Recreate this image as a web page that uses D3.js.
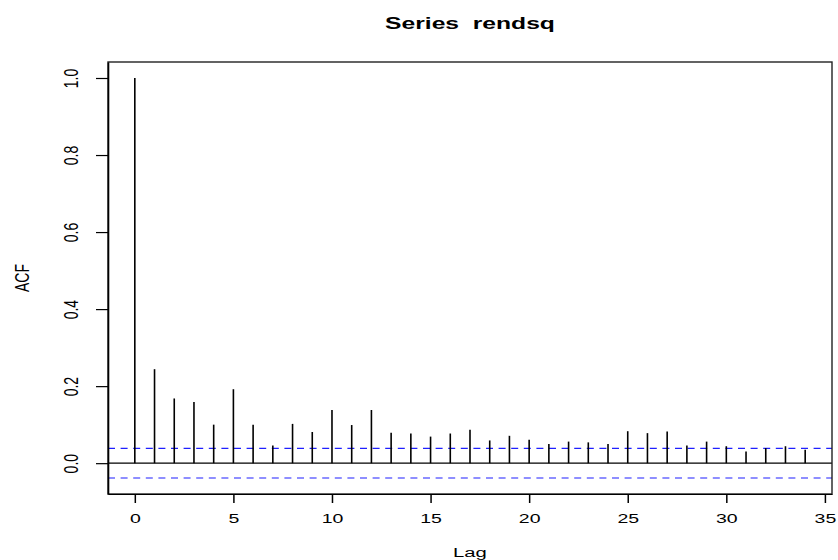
<!DOCTYPE html>
<html>
<head>
<meta charset="utf-8">
<script src="https://cdn.jsdelivr.net/npm/d3@7.9.0/dist/d3.min.js"></script>
<style>
  body { margin: 0; background: #fff; }
  svg { display: block; font-family: "Liberation Sans", Arial, Helvetica, sans-serif; }
</style>
</head>
<body>
<svg id="chart"></svg>
<script>
const width = 838;
const height = 560;

// data
const lags = [0, 1, 2, 3, 4, 5, 6, 7, 8, 9, 10, 11, 12, 13, 14, 15, 16, 17,
              18, 19, 20, 21, 22, 23, 24, 25, 26, 27, 28, 29, 30, 31, 32, 33, 34];
const acfValues = [1.000, 0.244, 0.168, 0.159, 0.100, 0.192, 0.100, 0.046, 0.102, 0.081,
                   0.138, 0.099, 0.138, 0.079, 0.077, 0.069, 0.077, 0.087, 0.059, 0.071,
                   0.061, 0.050, 0.056, 0.054, 0.050, 0.083, 0.078, 0.082, 0.046, 0.056,
                   0.044, 0.030, 0.039, 0.044, 0.035];
const confLimit = 0.0385;
const xTicks = [0, 5, 10, 15, 20, 25, 30, 35];
const yTicks = [0, 0.2, 0.4, 0.6, 0.8, 1.0];
const title = "Series  rendsq";

// plot region (R's default box)
const plotLeft = 108, plotRight = 832, plotTop = 62, plotBottom = 494;
const sx = 1.5; // text in the picture is stretched horizontally

const svg = d3.select("#chart").attr("width", width).attr("height", height);

// R-style 4% extension of the ranges
const xMin = d3.min(lags), xMax = d3.max(lags);
const xPad = (xMax - xMin) * 0.04;
const yMin = Math.min(-confLimit, d3.min(acfValues)), yMax = d3.max(acfValues);
const yPad = (yMax - yMin) * 0.04;

const x = d3.scaleLinear().domain([xMin - xPad, xMax + xPad]).range([plotLeft, plotRight]);
const y = d3.scaleLinear().domain([yMin - yPad, yMax + yPad]).range([plotBottom, plotTop]);

svg.append("defs").append("clipPath").attr("id", "plot-clip")
  .append("rect")
  .attr("x", plotLeft).attr("y", plotTop)
  .attr("width", plotRight - plotLeft).attr("height", plotBottom - plotTop);

const plot = svg.append("g").attr("clip-path", "url(#plot-clip)");

// zero line
plot.append("line")
  .attr("x1", plotLeft).attr("x2", plotRight)
  .attr("y1", y(0)).attr("y2", y(0))
  .attr("stroke", "#000").attr("stroke-width", 1.2);

// confidence limits
[confLimit, -confLimit].forEach(c => {
  plot.append("line")
    .attr("x1", plotLeft).attr("x2", plotRight)
    .attr("y1", y(c)).attr("y2", y(c))
    .attr("stroke", "#1f1fff").attr("stroke-width", 1.2)
    .attr("stroke-dasharray", "7,5.6");
});

// spikes
plot.selectAll("line.spike")
  .data(lags)
  .join("line")
  .attr("class", "spike")
  .attr("x1", (d) => x(d)).attr("x2", (d) => x(d))
  .attr("y1", y(0)).attr("y2", (d, i) => y(acfValues[i]))
  .attr("stroke", "#000").attr("stroke-width", 1.6);

// box
svg.append("rect")
  .attr("x", plotLeft).attr("y", plotTop)
  .attr("width", plotRight - plotLeft).attr("height", plotBottom - plotTop)
  .attr("fill", "none").attr("stroke", "#222").attr("stroke-width", 1.4);

// x axis
const xAxis = svg.append("g")
  .attr("transform", `translate(0,${plotBottom})`)
  .call(d3.axisBottom(x).tickValues(xTicks).tickSize(9).tickSizeOuter(0).tickFormat(d3.format("d")));
xAxis.select(".domain").attr("stroke", "#000").attr("stroke-width", 1.2);
xAxis.selectAll(".tick line").attr("stroke", "#000").attr("stroke-width", 1.5);
xAxis.selectAll(".tick text")
  .attr("y", 29).attr("dy", null)
  .attr("font-size", 13).attr("fill", "#000")
  .attr("transform", `scale(${sx},1)`);

// y axis
const yAxis = svg.append("g")
  .attr("transform", `translate(${plotLeft},0)`)
  .call(d3.axisLeft(y).tickValues(yTicks).tickSize(12).tickSizeOuter(0).tickFormat(d3.format(".1f")));
yAxis.select(".domain").attr("stroke", "#000").attr("stroke-width", 1.6);
yAxis.selectAll(".tick line").attr("stroke", "#000").attr("stroke-width", 1.2);
yAxis.selectAll(".tick text")
  .attr("x", null).attr("y", null).attr("dy", null)
  .attr("text-anchor", "middle")
  .attr("font-size", 14).attr("fill", "#000")
  .attr("transform", `translate(-30,0) scale(${sx},1) rotate(-90)`);

svg.selectAll(".tick text").style("font-family", "inherit");
xAxis.attr("font-family", null);
yAxis.attr("font-family", null);

// labels
svg.append("text")
  .attr("transform", `translate(470,29) scale(1.45,1)`)
  .attr("text-anchor", "middle")
  .attr("font-size", 17).attr("font-weight", "bold")
  .style("white-space", "pre")
  .text(title);

svg.append("text")
  .attr("transform", `translate(470,557) scale(${sx},1)`)
  .attr("text-anchor", "middle")
  .attr("font-size", 13.5)
  .text("Lag");

svg.append("text")
  .attr("transform", `translate(29,${(plotTop + plotBottom) / 2}) scale(${sx},1) rotate(-90)`)
  .attr("text-anchor", "middle")
  .attr("font-size", 14)
  .text("ACF");
</script>
</body>
</html>
